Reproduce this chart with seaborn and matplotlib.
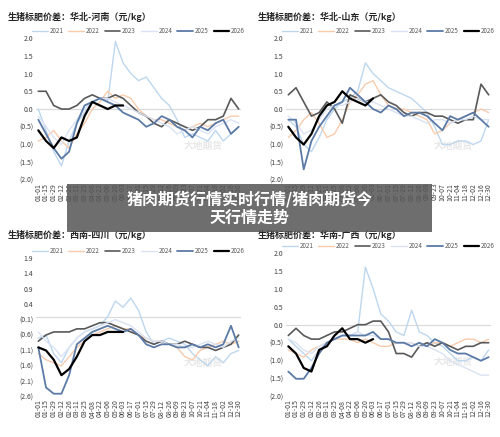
import numpy as np
import pandas as pd
import matplotlib
matplotlib.use("Agg")
import matplotlib.pyplot as plt
import seaborn as sns

sns.set_theme(style="white")
plt.rcParams['font.family'] = ['Noto Sans CJK SC', 'DejaVu Sans']

dates = ["01-01","01-15","01-29","02-12","02-26","03-11","03-25","04-08","04-22","05-06","05-20","06-03","06-17",
         "07-01","07-15","07-29","08-12","08-26","09-09","09-23","10-07","10-21","11-04","11-18","12-02","12-16","12-30"]
years = ["2021","2022","2023","2024","2025","2026"]
colors = {"2021":"#bdd7ee","2022":"#f8cbad","2023":"#595959","2024":"#dae3f3","2025":"#5b7aa6","2026":"#000000"}
widths = {"2021":1.0,"2022":1.0,"2023":1.2,"2024":1.0,"2025":1.3,"2026":1.6}

titles = ["生猪标肥价差：华北-河南（元/kg）","生猪标肥价差：华北-山东（元/kg）",
          "生猪标肥价差：西南-四川（元/kg）","生猪标肥价差：华南-广西（元/kg）"]

henan = {
 "2021":[0.0,-0.6,-1.2,-1.6,-0.9,-0.4,-0.1,0.2,0.3,0.2,1.9,1.3,1.0,0.8,0.9,0.6,0.3,0.1,-0.3,-0.8,-0.7,-0.8,-0.9,-0.6,-0.9,-0.7,-0.5],
 "2022":[-0.9,-0.8,-0.6,-0.9,-1.1,-0.7,-0.4,0.0,0.2,0.5,0.3,0.4,0.3,0.0,-0.2,-0.3,-0.3,-0.4,-0.5,-0.6,-0.5,-0.4,-0.5,-0.4,-0.3,-0.2,-0.2],
 "2023":[0.5,0.5,0.1,0.0,0.0,0.1,0.3,0.4,0.3,0.3,0.4,0.3,0.1,-0.1,-0.2,-0.4,-0.5,-0.3,-0.4,-0.5,-0.6,-0.5,-0.3,-0.3,-0.2,0.3,0.0],
 "2024":[-0.2,-0.5,-0.8,-1.0,-0.6,-0.3,0.0,0.2,0.3,0.3,0.2,0.1,0.0,-0.1,-0.2,-0.3,-0.4,-0.5,-0.7,-0.6,-0.5,-0.6,-0.7,-0.5,-0.4,-0.3,-0.4],
 "2025":[-0.3,-0.7,-1.1,-1.4,-1.2,-0.4,0.1,0.2,0.3,0.2,0.1,-0.1,-0.2,-0.3,-0.5,-0.4,-0.2,-0.3,-0.5,-0.6,-0.8,-0.5,-0.6,-0.4,-0.3,-0.7,-0.5],
 "2026":[-0.6,-0.9,-1.1,-0.8,-0.9,-0.8,-0.2,0.2,0.1,0.0,0.1,0.1],
}
shandong = {
 "2021":[-0.3,-0.5,-1.0,-1.2,-0.8,-0.3,0.0,0.2,0.3,0.5,1.3,1.0,0.8,0.6,0.5,0.4,0.3,0.1,-0.1,-0.5,-1.0,-1.0,-0.9,-0.9,-1.0,-0.9,-0.3],
 "2022":[-0.8,-0.6,-0.3,-0.1,-0.4,-0.8,-0.7,-0.3,0.2,0.4,0.7,0.8,0.4,0.1,0.0,0.0,-0.1,-0.2,-0.3,-0.7,-0.6,-0.4,-0.3,-0.2,-0.1,0.0,-0.1],
 "2023":[0.4,0.6,0.2,-0.2,-0.1,0.2,0.0,-0.4,0.4,0.3,0.2,0.3,0.4,0.2,0.1,-0.1,-0.2,-0.1,-0.1,-0.2,-0.2,-0.3,-0.4,-0.3,-0.3,0.7,0.4],
 "2024":[-0.2,-0.4,-0.7,-0.6,-0.3,0.0,0.1,0.1,0.2,0.3,0.2,0.2,0.1,0.0,-0.1,-0.2,-0.2,-0.3,-0.4,-0.3,-0.3,-0.4,-0.3,-0.3,-0.2,-0.3,-0.3],
 "2025":[-0.3,-0.3,-1.7,-0.9,-0.5,-0.2,0.1,0.2,0.6,0.4,0.2,0.0,-0.1,0.1,0.0,-0.2,-0.1,-0.1,-0.2,-0.4,-0.6,-0.2,-0.3,-0.2,-0.1,-0.3,-0.5],
 "2026":[-0.5,-0.8,-1.0,-0.7,-0.2,0.1,0.2,0.5,0.3,0.2,0.1,0.3],
}
sichuan = {
 "2021":[-0.7,-0.6,-1.2,-1.5,-1.0,-0.7,-0.5,-0.4,-0.3,0.0,0.5,0.3,0.6,0.2,-0.5,-0.9,-0.8,-0.7,-0.8,-0.9,-1.2,-1.4,-1.6,-1.3,-1.5,-1.2,-1.1],
 "2022":[-1.2,-1.4,-1.5,-1.6,-1.3,-1.0,-0.8,-0.6,-0.5,-0.4,-0.3,-0.4,-0.4,-0.6,-0.7,-0.8,-0.8,-0.9,-1.0,-1.3,-1.4,-1.1,-1.0,-0.9,-0.8,-0.9,-0.8],
 "2023":[-0.8,-0.6,-0.5,-0.5,-0.5,-0.4,-0.4,-0.3,-0.2,-0.2,-0.3,-0.4,-0.5,-0.6,-0.8,-0.9,-0.8,-0.9,-0.9,-0.8,-0.9,-1.0,-1.0,-1.1,-1.0,-0.9,-0.6],
 "2024":[-0.5,-0.8,-1.0,-1.3,-1.0,-0.7,-0.5,-0.4,-0.3,-0.2,-0.1,-0.2,-0.3,-0.5,-0.7,-0.8,-0.8,-0.9,-0.9,-1.0,-1.0,-0.9,-0.8,-0.9,-1.0,-0.8,-0.7],
 "2025":[-1.0,-2.3,-2.5,-2.5,-1.9,-0.9,-0.7,-0.5,-0.4,-0.3,-0.4,-0.5,-0.4,-0.6,-0.9,-1.0,-0.9,-0.9,-1.0,-1.0,-0.9,-1.0,-0.9,-1.0,-0.9,-0.3,-1.0],
 "2026":[-1.0,-1.1,-1.4,-1.9,-1.7,-1.3,-0.8,-0.6,-0.6,-0.5,-0.5,-0.5],
}
guangxi = {
 "2021":[-0.4,-0.6,-0.8,-1.0,-0.7,-0.5,-0.4,-0.3,-0.3,-0.2,1.6,1.0,0.3,0.1,-0.2,-0.3,0.4,-0.2,-0.3,-0.5,-0.6,-0.8,-1.0,-1.0,-0.9,-1.0,-0.7],
 "2022":[-0.7,-0.8,-0.9,-0.7,-0.6,-0.5,-0.4,-0.4,-0.4,-0.5,-0.4,-0.5,-0.6,-0.6,-0.5,-0.5,-0.5,-0.6,-0.6,-0.5,-0.5,-0.6,-0.5,-0.4,-0.4,-0.5,-0.4],
 "2023":[-0.3,-0.1,-0.3,-0.4,-0.4,-0.3,-0.2,-0.2,-0.1,0.0,0.0,0.1,0.1,-0.2,-0.8,-0.8,-0.9,-0.6,-0.5,-0.6,-0.5,-0.6,-0.7,-0.6,-0.6,-0.5,-0.5],
 "2024":[-0.4,-0.5,-0.7,-0.8,-0.6,-0.5,-0.4,-0.3,-0.3,-0.2,-0.3,-0.3,-0.4,-0.4,-0.5,-0.5,-0.5,-0.6,-0.6,-0.7,-0.8,-1.0,-1.1,-1.2,-1.3,-1.4,-1.4],
 "2025":[-1.3,-1.5,-1.5,-1.2,-0.8,-0.5,-0.4,-0.3,-0.3,-0.3,-0.3,-0.2,-0.4,-0.4,-0.5,-0.5,-0.6,-0.5,-0.6,-0.4,-0.5,-0.7,-0.8,-0.8,-0.9,-1.0,-0.9],
 "2026":[-0.6,-0.8,-1.2,-1.3,-0.7,-0.6,-0.3,-0.1,-0.4,-0.4,-0.5,-0.4],
}
panels = [henan, shandong, sichuan, guangxi]
yticks_list = [np.arange(2.0, -2.01, -0.5), np.arange(2.0, -2.01, -0.5),
               np.arange(1.9, -2.61, -0.5), np.arange(2.0, -2.01, -0.5)]

def fmt(v):
    v = round(v, 1)
    return f"({abs(v):.1f})" if v < 0 else f"{v:.1f}"

fig = plt.figure(figsize=(5.0, 4.37), dpi=100)
rects = [[0.072, 0.588, 0.41, 0.325], [0.572, 0.588, 0.41, 0.325],
         [0.072, 0.092, 0.41, 0.318], [0.572, 0.092, 0.41, 0.33]]
title_y = [0.955, 0.955, 0.455, 0.455]
title_x = [0.015, 0.515, 0.015, 0.515]

for i, data in enumerate(panels):
    ax = fig.add_axes(rects[i])
    rows = []
    for y in years:
        for j, v in enumerate(data[y]):
            rows.append({"x": j, "v": v, "year": y})
    df = pd.DataFrame(rows)
    ax.axhline(0, color="#d9d9d9", lw=0.8, zorder=0)
    for y in years:
        sub = df[df.year == y]
        sns.lineplot(data=sub, x="x", y="v", ax=ax, color=colors[y], lw=widths[y], label=y)
    yt = yticks_list[i]
    ax.set_ylim(yt.min(), yt.max())
    ax.set_yticks(yt)
    ax.set_yticklabels([fmt(v) for v in yt], fontsize=5, color="#404040")
    ax.set_xlim(-0.3, len(dates) - 0.7)
    ax.set_xticks(range(len(dates)))
    ax.set_xticklabels(dates, rotation=90, fontsize=5, color="#404040")
    ax.tick_params(length=0, pad=2)
    ax.set_xlabel(""); ax.set_ylabel("")
    for s in ax.spines.values():
        s.set_visible(False)
    ax.legend(loc="lower center", bbox_to_anchor=(0.5, 0.98), ncol=6, frameon=False,
              fontsize=4.5, handlelength=2.5, columnspacing=0.8, handletextpad=0.3,
              labelcolor="#595959")
    ax.text(0.72, 0.22, "大地期货", transform=ax.transAxes, fontsize=7,
            color="#e8e8e8", fontweight="bold", zorder=0)
    fig.text(title_x[i], title_y[i], titles[i], fontsize=6.5, fontweight="bold", color="#262626")

fig.patches.append(plt.Rectangle((0.134, 0.468), 0.73, 0.11, transform=fig.transFigure,
                                 facecolor="#555555", alpha=0.85, edgecolor="none", zorder=10))
fig.text(0.5, 0.523, "猪肉期货行情实时行情/猪肉期货今\n天行情走势", ha="center", va="center",
         fontsize=11.5, fontweight="bold", color="white", zorder=11, linespacing=1.15)

fig.savefig("out.png", dpi=100, facecolor="white")
